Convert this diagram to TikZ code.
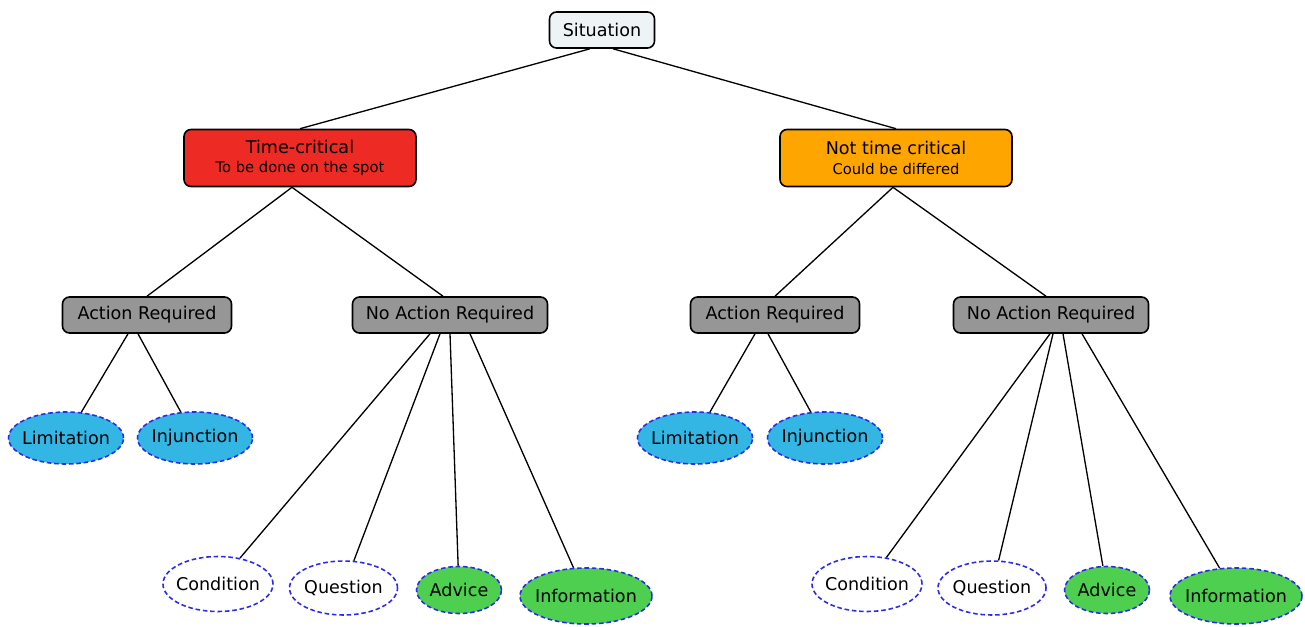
\documentclass[tikz,border=0pt]{standalone}
\usepackage{fontspec}
\setmainfont{DejaVu Sans}
\usetikzlibrary{shapes.geometric}
\definecolor{sitfill}{HTML}{EEF3F6}
\definecolor{redfill}{HTML}{EE2A24}
\definecolor{orangefill}{HTML}{FFA500}
\definecolor{grayfill}{HTML}{969696}
\definecolor{cyanfill}{HTML}{33B6E4}
\definecolor{greenfill}{HTML}{4FCF50}
\definecolor{dashblue}{HTML}{2B2BEE}
\begin{document}
\begin{tikzpicture}[font=\fontsize{10}{12}\selectfont]
\tikzstyle{box_style} = [rectangle, rounded corners=0.14cm, draw=black, line width=0.9pt, minimum height=0.72cm, inner sep=2pt, align=center]
\tikzstyle{top_style} = [box_style, minimum height=1.14cm, minimum width=4.64cm]
\tikzstyle{mid_style} = [box_style, fill=grayfill]
\tikzstyle{leaf_style} = [ellipse, draw=dashblue, dash pattern=on 2.6pt off 1.6pt, line width=0.9pt, inner xsep=-0.12cm, inner ysep=0pt, minimum width=2.3cm, minimum height=1.04cm]
\tikzstyle{edge_style} = [draw=black, line width=0.75pt]
\useasboundingbox (0,0) rectangle (26.1,12.52);

\node[box_style, fill=sitfill, minimum width=2.1cm] (sit) at (12.04,11.92) {Situation};

\node[top_style, fill=redfill] (tc) at (6.0,9.36) {Time-critical\\[-1pt]{\fontsize{8.4}{10}\selectfont To be done on the spot}};
\node[top_style, fill=orangefill] (ntc) at (17.92,9.36) {Not time critical\\[-1pt]{\fontsize{8.4}{10}\selectfont Could be differed}};

\node[mid_style, minimum width=3.38cm] (ar1) at (2.94,6.22) {Action Required};
\node[mid_style, minimum width=3.9cm] (nar1) at (9.0,6.22) {No Action Required};
\node[mid_style, minimum width=3.38cm] (ar2) at (15.5,6.22) {Action Required};
\node[mid_style, minimum width=3.9cm] (nar2) at (21.02,6.22) {No Action Required};

\node[leaf_style, fill=cyanfill] (lim1) at (1.32,3.76) {Limitation};
\node[leaf_style, fill=cyanfill] (inj1) at (3.9,3.76) {Injunction};
\node[leaf_style, fill=cyanfill] (lim2) at (13.9,3.76) {Limitation};
\node[leaf_style, fill=cyanfill] (inj2) at (16.5,3.76) {Injunction};

\node[leaf_style, minimum width=2.2cm, minimum height=1.1cm] (cond1) at (4.36,0.84) {Condition};
\node[leaf_style, minimum width=2.16cm, minimum height=1.08cm] (ques1) at (6.87,0.76) {Question};
\node[leaf_style, fill=greenfill, minimum width=1.7cm, minimum height=0.94cm] (adv1) at (9.18,0.72) {Advice};
\node[leaf_style, fill=greenfill, minimum width=2.64cm, minimum height=1.12cm] (info1) at (11.72,0.6) {Information};
\node[leaf_style, minimum width=2.2cm, minimum height=1.1cm] (cond2) at (17.34,0.84) {Condition};
\node[leaf_style, minimum width=2.16cm, minimum height=1.08cm] (ques2) at (19.84,0.76) {Question};
\node[leaf_style, fill=greenfill, minimum width=1.7cm, minimum height=0.94cm] (adv2) at (22.14,0.72) {Advice};
\node[leaf_style, fill=greenfill, minimum width=2.64cm, minimum height=1.12cm] (info2) at (24.72,0.6) {Information};

\draw[edge_style] ([xshift=-0.24cm]sit.south) -- (tc.north);
\draw[edge_style] ([xshift=0.22cm]sit.south) -- (ntc.north);

\draw[edge_style] ([xshift=-0.16cm]tc.south) -- (ar1.north);
\draw[edge_style] ([xshift=-0.16cm]tc.south) -- ([xshift=-0.14cm]nar1.north);
\draw[edge_style] ([xshift=-0.06cm]ntc.south) -- (ar2.north);
\draw[edge_style] ([xshift=-0.06cm]ntc.south) -- ([xshift=-0.1cm]nar2.north);

\draw[edge_style] ([xshift=-0.38cm]ar1.south) -- (lim1);
\draw[edge_style] ([xshift=-0.18cm]ar1.south) -- (inj1);
\draw[edge_style] ([xshift=-0.4cm]ar2.south) -- (lim2);
\draw[edge_style] ([xshift=-0.14cm]ar2.south) -- (inj2);

\draw[edge_style] ([xshift=-0.4cm]nar1.south) -- (cond1);
\draw[edge_style] ([xshift=-0.2cm]nar1.south) -- (ques1);
\draw[edge_style] (nar1.south) -- (adv1);
\draw[edge_style] ([xshift=0.4cm]nar1.south) -- (info1);
\draw[edge_style] ([xshift=-0.02cm]nar2.south) -- (cond2);
\draw[edge_style] ([xshift=0.04cm]nar2.south) -- (ques2);
\draw[edge_style] ([xshift=0.24cm]nar2.south) -- (adv2);
\draw[edge_style] ([xshift=0.62cm]nar2.south) -- (info2);
\end{tikzpicture}
\end{document}
